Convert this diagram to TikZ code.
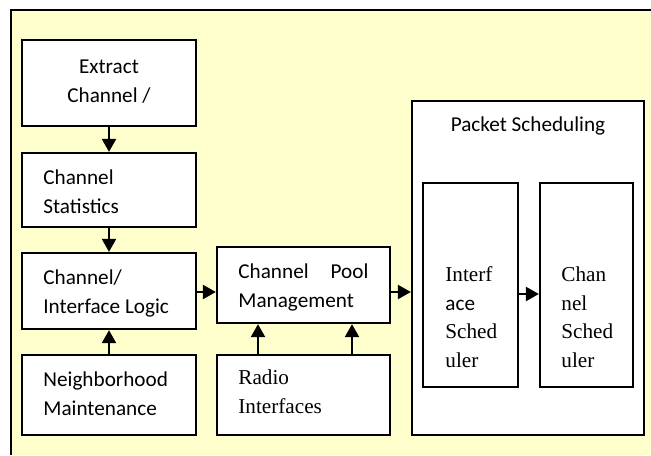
\documentclass[tikz,border=0pt]{standalone}
\usepackage{fontspec}
\setmainfont{Liberation Serif}
\newfontfamily\calfont{Carlito}
\usetikzlibrary{arrows.meta,calc}
\definecolor{paleyellow}{RGB}{255,255,206}
\tikzset{
  box/.style={draw=black,line width=1.15pt,fill=white,inner sep=0pt},
  flow/.style={draw=black,line width=1.15pt,-{Triangle[length=6.5pt,width=7pt]}},
  sanslabel/.style={inner sep=0pt,anchor=base west,align=left,
    font=\calfont\fontsize{10.6pt}{14.3pt}\selectfont},
  seriflabel/.style={inner sep=0pt,anchor=base west,align=left,
    font=\fontsize{10.6pt}{14.2pt}\selectfont},
}
\begin{document}
\begin{tikzpicture}[x=0.5pt,y=-0.5pt]
  \useasboundingbox (0,0) rectangle (651,455);
  % pale yellow canvas with a frame on its top and left sides
  \fill[paleyellow] (11,10) rectangle (651,455);
  \draw[line width=1.15pt] (11,455) -- (11,10) -- (651,10);

  % left column
  \node[box,minimum width=87pt,minimum height=43pt] (ext)   at (109,83)  {};
  \node[box,minimum width=87pt,minimum height=37pt] (stat)  at (109,190) {};
  \node[box,minimum width=87pt,minimum height=38pt] (logic) at (109,291) {};
  \node[box,minimum width=87pt,minimum height=40pt] (nbr)   at (109,395) {};
  % middle column
  \node[box,minimum width=86.5pt,minimum height=38pt] (pool)  at (303.5,285) {};
  \node[box,minimum width=86.5pt,minimum height=40pt] (radio) at (303.5,395) {};
  % packet scheduling block
  \node[box,minimum width=116pt,minimum height=167pt] (pkt)  at (528,268)   {};
  \node[box,minimum width=47.5pt,minimum height=102pt] (isch) at (470.5,285) {};
  \node[box,minimum width=46.5pt,minimum height=102pt] (csch) at (586.5,285) {};

  % labels (anchored on the baseline of their last line)
  \node[sanslabel,anchor=base,align=center] (extT) at (109,102) {Extract\\Channel /};
  \node[sanslabel] (statT)  at (43,213) {Channel\\Statistics};
  \node[sanslabel] (logicT) at (43,313) {Channel/\\Interface Logic};
  \node[sanslabel] (nbrT)   at (43,415) {Neighborhood\\Maintenance};
  \node[sanslabel] (poolT)  at (238,307) {\makebox[65pt][s]{Channel\hfill Pool}\\Management};
  \node[seriflabel] (radioT) at (238,413) {Radio\\Interfaces};
  \node[sanslabel,anchor=base] (pktT) at (528,131) {Packet Scheduling};
  \node[seriflabel] (ischT) at (445,367) {Interf\\{\calfont ace}\\Sched\\uler};
  \node[seriflabel] (cschT) at (561,367) {Chan\\nel\\Sched\\uler};

  % connectors
  \draw[flow] (ext.south) -- (stat.north);
  \draw[flow] (stat.south) -- (logic.north);
  \draw[flow] (nbr.north) -- (logic.south);
  \coordinate (row) at ($(logic.east)+(0,1)$);
  \draw[flow] (row) -- (row -| pool.west);
  \draw[flow] (row -| pool.east) -- (row -| pkt.west);
  \draw[flow] ([yshift=-1pt]row -| isch.east) -- ([yshift=-1pt]row -| csch.west);
  \draw[flow] ([xshift=-22.75pt]radio.north) -- ([xshift=-22.75pt]pool.south);
  \draw[flow] ([xshift=24.25pt]radio.north) -- ([xshift=24.25pt]pool.south);
\end{tikzpicture}
\end{document}
